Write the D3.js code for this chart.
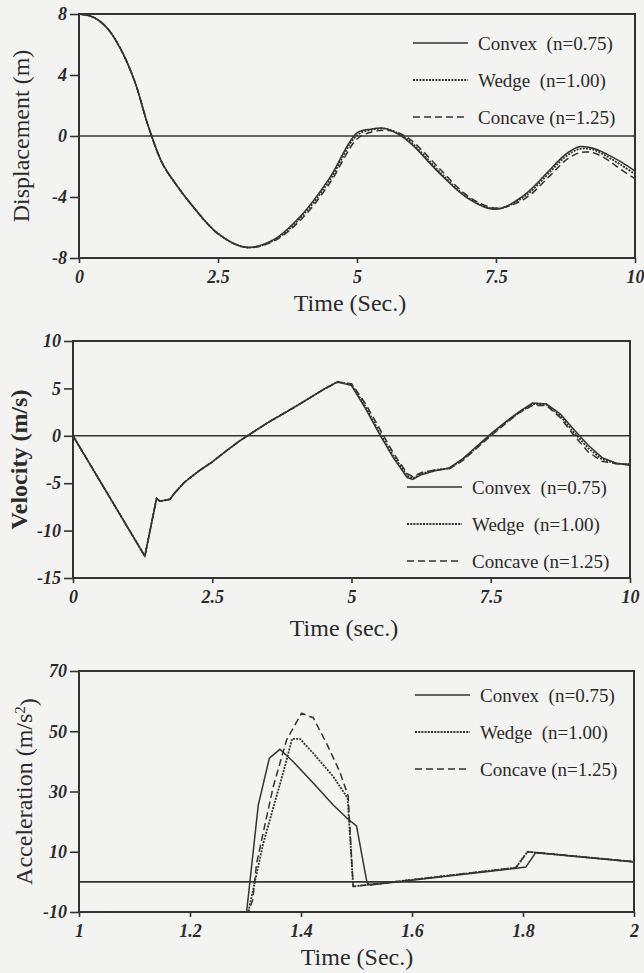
<!DOCTYPE html>
<html>
<head>
<meta charset="utf-8">
<script src="https://cdn.jsdelivr.net/npm/d3@7"></script>
<style>
  body { margin: 0; background: #f3f3f1; }
  svg { display: block; }
  text { font-family: "Liberation Serif", "Times New Roman", serif; fill: #2b2b2b; }
  .tick text { font-family: "Liberation Serif", serif; font-weight: bold; font-style: italic; font-size: 18px; }
  .tick line { stroke: #333; stroke-width: 1.6; }
</style>
</head>
<body>
<svg id="chart" width="644" height="973"></svg>
<script>
// series labels
const seriesNames = ["Convex  (n=0.75)", "Wedge  (n=1.00)", "Concave (n=1.25)"]

// displacement (m) vs time (sec)
const dispTime = [0, 0.25, 0.5, 0.75, 1, 1.25, 1.5, 1.75, 2, 2.5, 3, 3.5, 4, 4.5, 5, 5.25, 5.5, 5.75, 6, 6.5, 7, 7.5, 8, 8.5, 8.75, 9, 9.25, 9.5, 9.75, 10]
const dispConvex = [8.0, 7.8, 7.1, 5.7, 3.6, 0.6, -1.8, -3.2, -4.4, -6.4, -7.3, -6.8, -5.2, -2.8, 0.2, 0.45, 0.5, 0.1, -0.6, -2.5, -4.1, -4.8, -3.9, -2.1, -1.2, -0.7, -0.8, -1.2, -1.7, -2.3]
const dispWedge = [8.0, 7.8, 7.1, 5.7, 3.6, 0.6, -1.8, -3.2, -4.4, -6.4, -7.3, -6.85, -5.3, -2.95, 0.05, 0.4, 0.48, 0.15, -0.5, -2.4, -4.05, -4.78, -4.0, -2.25, -1.35, -0.85, -0.9, -1.35, -1.9, -2.5]
const dispConcave = [8.0, 7.8, 7.1, 5.7, 3.6, 0.6, -1.8, -3.2, -4.4, -6.4, -7.3, -6.9, -5.45, -3.15, -0.2, 0.25, 0.38, 0.2, -0.35, -2.2, -3.95, -4.72, -4.15, -2.5, -1.6, -1.1, -1.1, -1.55, -2.2, -2.8]
const dispXTicks = [0, 2.5, 5, 7.5, 10]
const dispYTicks = [8, 4, 0, -4, -8]

// velocity (m/s) vs time (sec)
const velTime = [0, 1.29, 1.5, 1.56, 1.65, 1.74, 1.83, 2, 2.25, 2.5, 2.75, 3, 3.5, 4, 4.5, 4.75, 5, 5.25, 5.5, 5.75, 6, 6.1, 6.25, 6.5, 6.75, 7, 7.25, 7.5, 7.75, 8, 8.25, 8.5, 8.75, 9, 9.25, 9.5, 9.75, 10]
const velConvex = [0, -12.7, -6.6, -6.9, -6.8, -6.7, -6.0, -4.9, -3.75, -2.75, -1.6, -0.5, 1.4, 3.1, 4.9, 5.7, 5.3, 2.9, 0.2, -2.3, -4.4, -4.6, -4.1, -3.7, -3.4, -2.4, -1.1, 0.2, 1.4, 2.5, 3.45, 3.35, 2.3, 0.6, -1.0, -2.3, -2.9, -3.1]
const velWedge = [0, -12.7, -6.6, -6.9, -6.8, -6.7, -6.0, -4.9, -3.75, -2.75, -1.6, -0.5, 1.4, 3.1, 4.9, 5.7, 5.4, 3.1, 0.4, -2.1, -4.2, -4.5, -4.0, -3.6, -3.45, -2.5, -1.2, 0.1, 1.3, 2.4, 3.35, 3.3, 2.1, 0.3, -1.3, -2.5, -2.9, -3.05]
const velConcave = [0, -12.7, -6.6, -6.9, -6.8, -6.7, -6.0, -4.9, -3.75, -2.75, -1.6, -0.5, 1.4, 3.1, 4.9, 5.65, 5.5, 3.4, 0.8, -1.8, -4.0, -4.3, -3.9, -3.6, -3.5, -2.6, -1.3, 0.0, 1.2, 2.4, 3.2, 3.2, 1.9, 0.0, -1.7, -2.7, -2.95, -3.0]
const velXTicks = [0, 2.5, 5, 7.5, 10]
const velYTicks = [10, 5, 0, -5, -10, -15]

// acceleration (m/s^2) vs time (sec), each series has its own sample times
const accConvexT = [1, 1.302, 1.323, 1.343, 1.362, 1.386, 1.422, 1.458, 1.485, 1.5, 1.519, 1.525, 1.805, 1.823, 2]
const accConvex = [-10, -10, 25.5, 41.1, 44.0, 39.9, 32.8, 25.5, 20.8, 18.6, -0.3, -1.0, 4.9, 9.7, 6.6]
const accWedgeT = [1, 1.305, 1.332, 1.369, 1.384, 1.398, 1.422, 1.458, 1.484, 1.494, 1.52, 1.787, 1.808, 2]
const accWedge = [-10, -10, 12.8, 37.0, 47.5, 47.5, 42.7, 35.0, 27.8, -1.5, -1.0, 4.7, 10.0, 6.7]
const accConcaveT = [1, 1.305, 1.313, 1.32, 1.35, 1.374, 1.401, 1.422, 1.446, 1.47, 1.485, 1.494, 1.52, 1.787, 1.808, 2]
const accConcave = [-10, -10, -6, 6.2, 31.6, 47.1, 56.0, 54.5, 46.0, 36.5, 28.5, -1.5, -1.0, 4.7, 10.0, 6.7]
const accXTicks = [1, 1.2, 1.4, 1.6, 1.8, 2]
const accYTicks = [70, 50, 30, 10, -10]

const dashes = [null, "2,1.2", "7,4"]
const ink = "#333"

const svg = d3.select("#chart")

function zip(xs, ys) {
  return xs.map((x, i) => [x, ys[i]])
}

function drawPanel(p) {
  const g = svg.append("g")
  const x = d3.scaleLinear().domain(p.xDomain).range([p.left, p.right])
  const y = d3.scaleLinear().domain(p.yDomain).range([p.bottom, p.top])

  // axes (ticks + labels), the frame is drawn separately
  const xa = g.append("g")
    .attr("transform", `translate(0,${p.bottom})`)
    .call(d3.axisBottom(x).tickValues(p.xTicks).tickSize(5).tickPadding(7).tickFormat(d => String(d)))
  const ya = g.append("g")
    .attr("transform", `translate(${p.left},0)`)
    .call(d3.axisLeft(y).tickValues(p.yTicks).tickSize(9).tickPadding(3).tickFormat(d => String(d)))
  xa.select(".domain").remove()
  ya.select(".domain").remove()

  g.append("rect")
    .attr("x", p.left).attr("y", p.top)
    .attr("width", p.right - p.left).attr("height", p.bottom - p.top)
    .attr("fill", "none").attr("stroke", ink).attr("stroke-width", 2)

  // zero line
  g.append("line")
    .attr("x1", p.left).attr("x2", p.right)
    .attr("y1", y(0)).attr("y2", y(0))
    .attr("stroke", ink).attr("stroke-width", 1.6)

  const line = d3.line().x(d => x(d[0])).y(d => y(d[1])).curve(p.curve)
  p.series.forEach((s, i) => {
    g.append("path")
      .datum(s)
      .attr("d", line)
      .attr("fill", "none")
      .attr("stroke", ink)
      .attr("stroke-width", i == 1 ? 1.8 : 1.5)
      .attr("stroke-dasharray", dashes[i])
  })

  // legend
  seriesNames.forEach((name, i) => {
    const ly = p.legendY + i * 37
    g.append("line")
      .attr("x1", p.legendX).attr("x2", p.legendX + 55)
      .attr("y1", ly).attr("y2", ly)
      .attr("stroke", ink).attr("stroke-width", i == 1 ? 2.2 : 1.6)
      .attr("stroke-dasharray", dashes[i])
    g.append("text")
      .attr("x", p.legendX + 65).attr("y", ly + 7)
      .style("font-size", "19px")
      .style("white-space", "pre")
      .text(name)
  })

  // axis titles
  g.append("text")
    .attr("x", p.xTitleX).attr("y", p.xTitleY)
    .attr("text-anchor", "middle")
    .style("font-size", "24px")
    .text(p.xTitle)
  const yt = g.append("text")
    .attr("transform", `translate(${p.yTitleX},${(p.top + p.bottom) / 2}) rotate(-90)`)
    .attr("text-anchor", "middle")
    .style("font-size", "24px")
    .style("font-weight", p.yBold ? "bold" : "normal")
  if (p.ySup) {
    yt.append("tspan").text(p.yTitle)
    yt.append("tspan").attr("dy", "-0.45em").style("font-size", "15px").text(p.ySup)
    yt.append("tspan").attr("dy", "0.45em").text(")")
  } else {
    yt.text(p.yTitle)
  }
}

drawPanel({
  left: 79, right: 635, top: 14, bottom: 258,
  xDomain: [0, 10], yDomain: [-8, 8],
  xTicks: dispXTicks, yTicks: dispYTicks,
  curve: d3.curveCatmullRom,
  series: [zip(dispTime, dispConvex), zip(dispTime, dispWedge), zip(dispTime, dispConcave)],
  legendX: 413, legendY: 43,
  xTitle: "Time (Sec.)", xTitleX: 350, xTitleY: 311,
  yTitle: "Displacement (m)", yTitleX: 29
})

drawPanel({
  left: 73, right: 630, top: 341, bottom: 578,
  xDomain: [0, 10], yDomain: [-15, 10],
  xTicks: velXTicks, yTicks: velYTicks,
  curve: d3.curveLinear,
  series: [zip(velTime, velConvex), zip(velTime, velWedge), zip(velTime, velConcave)],
  legendX: 407, legendY: 487,
  xTitle: "Time (sec.)", xTitleX: 344, xTitleY: 636,
  yTitle: "Velocity (m/s)", yTitleX: 27, yBold: true
})

drawPanel({
  left: 79, right: 634, top: 671, bottom: 912,
  xDomain: [1, 2], yDomain: [-10, 70],
  xTicks: accXTicks, yTicks: accYTicks,
  curve: d3.curveLinear,
  series: [zip(accConvexT, accConvex), zip(accWedgeT, accWedge), zip(accConcaveT, accConcave)],
  legendX: 415, legendY: 695,
  xTitle: "Time (Sec.)", xTitleX: 357, xTitleY: 965,
  yTitle: "Acceleration (m/s", ySup: "2", yTitleX: 32
})
</script>
</body>
</html>
